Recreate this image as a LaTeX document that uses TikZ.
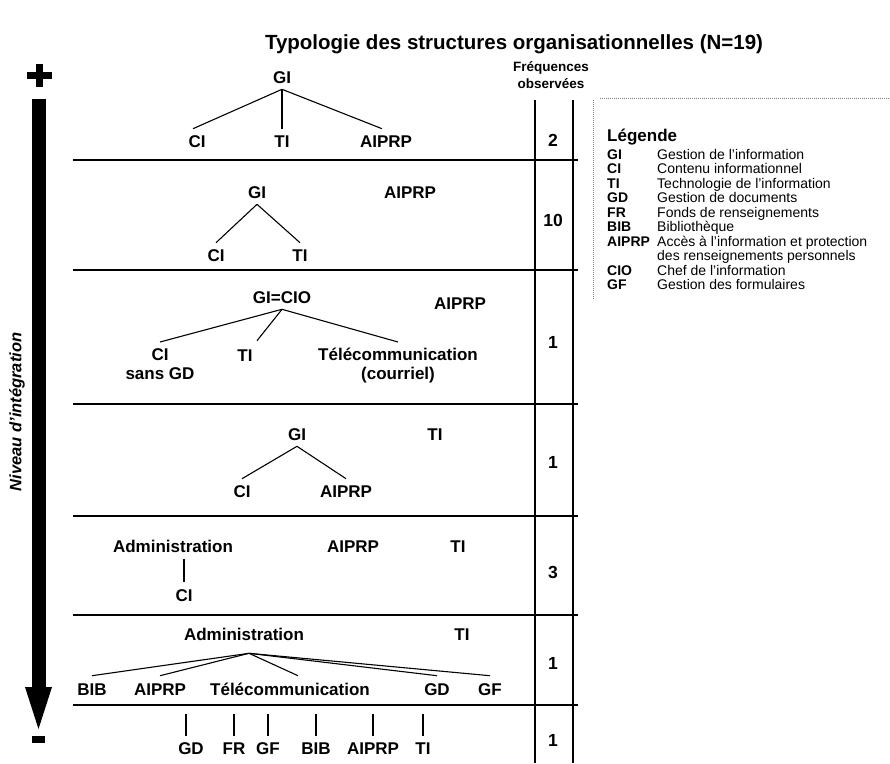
\documentclass[tikz,border=0pt]{standalone}
\usepackage{fontspec}
\setmainfont{Liberation Sans}
\begin{document}
\begin{tikzpicture}[x=1pt,y=-1pt,
  lbl/.style={font=\bfseries\fontsize{17}{19}\selectfont, inner xsep=1pt, inner ysep=6pt, text height=12.2pt, text depth=0pt},
  lblm/.style={font=\bfseries\fontsize{17}{19}\selectfont, inner xsep=1pt, inner ysep=6pt, align=center, anchor=north},
  freq/.style={font=\bfseries\fontsize{17.5}{19}\selectfont, inner sep=1pt},
  leg/.style={font=\fontsize{14}{15}\selectfont, anchor=base west, inner sep=0pt},
  legb/.style={font=\bfseries\fontsize{14}{15}\selectfont, anchor=base west, inner sep=0pt},
  sepline/.style={line width=1.7pt},
  link/.style={line width=1.1pt},
  colline/.style={line width=1.1pt},
  dotline/.style={line width=1pt, gray, densely dotted}]
\useasboundingbox (0,0) rectangle (890,763);
\fill[white] (0,0) rectangle (890,763);

% title
\node[font=\bfseries\fontsize{20.5}{23}\selectfont, inner sep=1pt] (title) at (514,44) {Typologie des structures organisationnelles (N=19)};

% left arrow
\fill (27,72) rectangle (52,79);
\fill (36,64) rectangle (43,87);
\fill (32,99) rectangle (46,689);
\fill (25,687) -- (52,687) -- (38.5,729) -- cycle;
\fill (32,736) rectangle (45,743);
\node[rotate=90, font=\bfseries\itshape\fontsize{16.5}{18}\selectfont] (niv) at (17,412) {Niveau d'intégration};

% frequency header and columns
\node[font=\bfseries\fontsize{13.5}{17}\selectfont, align=center, inner sep=1pt] (fhead) at (551,75) {Fréquences\\observées};
\draw[colline] (535,100) -- (535,763);
\draw[colline] (573,100) -- (573,763);

% horizontal separators
\foreach \yy in {160,270,404,516,615,705} \draw[sepline] (73,\yy) -- (578,\yy);

% frequencies
\node[freq] (f1) at (553,140) {2};
\node[freq] (f2) at (553,220) {10};
\node[freq] (f3) at (553,342) {1};
\node[freq] (f4) at (553,462) {1};
\node[freq] (f5) at (553,572) {3};
\node[freq] (f6) at (553,663) {1};
\node[freq] (f7) at (553,740) {1};

% section 1
\node[lbl] (gi1) at (282,77) {GI};
\node[lbl] (ci1) at (197,141) {CI};
\node[lbl] (ti1) at (282,141) {TI};
\node[lbl] (ai1) at (386,141) {AIPRP};
\draw[link] (gi1.south) -- ([xshift=-4pt]ci1.north);
\draw[link] (gi1.south) -- (ti1.north);
\draw[link] (gi1.south) -- ([xshift=-4pt]ai1.north);

% section 2
\node[lbl] (gi2) at (257,192) {GI};
\node[lbl] (ai2) at (410,192) {AIPRP};
\node[lbl] (ci2) at (216,255) {CI};
\node[lbl] (ti2) at (300,255) {TI};
\draw[link] (gi2.south) -- (ci2.north);
\draw[link] (gi2.south) -- (ti2.north);

% section 3
\node[lbl] (gi3) at (282,297) {GI=CIO};
\node[lbl] (ai3) at (460,303) {AIPRP};
\node[lblm] (ci3) at (160,342) {CI\\sans GD};
\node[lbl] (ti3) at (245,355) {TI};
\node[lblm] (te3) at (398,342) {Télécommunication\\(courriel)};
\draw[link] (gi3.south) -- (ci3.north);
\draw[link] (gi3.south) -- ([xshift=12pt,yshift=2pt]ti3.north);
\draw[link] (gi3.south) -- (te3.north);

% section 4
\node[lbl] (gi4) at (297,434) {GI};
\node[lbl] (ti4) at (435,434) {TI};
\node[lbl] (ci4) at (242,491) {CI};
\node[lbl] (ai4) at (346,491) {AIPRP};
\draw[link] (gi4.south) -- (ci4.north);
\draw[link] (gi4.south) -- (ai4.north);

% section 5
\node[lbl] (ad5) at (173,546) {Administration};
\node[lbl] (ai5) at (353,546) {AIPRP};
\node[lbl] (ti5) at (458,546) {TI};
\node[lbl] (ci5) at (184,595) {CI};
\draw[link] ([yshift=1pt]ci5.north) -- ([yshift=-1pt]ci5.north |- ad5.south);

% section 6
\node[lbl] (ad6) at (244,634) {Administration};
\node[lbl] (ti6) at (462,634) {TI};
\node[lbl, inner ysep=7pt] (bi6) at (92,689) {BIB};
\node[lbl, inner ysep=7pt] (ai6) at (160,689) {AIPRP};
\node[lbl, inner ysep=7pt] (te6) at (290,689) {Télécommunication};
\node[lbl, inner ysep=7pt] (gd6) at (437,689) {GD};
\node[lbl, inner ysep=7pt] (gf6) at (490,689) {GF};
\coordinate (ap6) at ([xshift=5pt,yshift=-7pt]ad6.south);
\draw[link] (ap6) -- (bi6.north);
\draw[link] (ap6) -- (ai6.north);
\draw[link] (ap6) -- ([xshift=8pt]te6.north);
\draw[link] (ap6) -- (gd6.north);
\draw[link] (ap6) -- (gf6.north);

% section 7
\foreach \nm/\xx/\tx in {gd7/191/GD, fr7/234/FR, gf7/268/GF, bi7/316/BIB, ai7/373/AIPRP, ti7/423/TI}{
  \node[lbl] (\nm) at (\xx,748) {\tx};
}
\foreach \nm/\xx in {gd7/186, fr7/234, gf7/268, bi7/316, ai7/373, ti7/423}{
  \coordinate (\nm t) at (\xx,714);
  \draw[link] (\nm t) -- (\nm t |- \nm.north);
}

% legend
\draw[dotline] (600,98) -- (890,98);
\draw[dotline] (593,100) -- (593,300);
\node[font=\bfseries\fontsize{17}{19}\selectfont, anchor=base west, inner sep=0pt] (legt) at (607,141) {Légende};
\foreach \i/\ab/\de [count=\k from 0] in {
  1/GI/Gestion de l'information,
  2/CI/Contenu informationnel,
  3/TI/Technologie de l'information,
  4/GD/Gestion de documents,
  5/FR/Fonds de renseignements,
  6/BIB/Bibliothèque,
  7/AIPRP/Accès à l'information et protection}{
  \node[legb] (la\i) at (607,{159+\k*14.5}) {\ab};
  \node[leg] (ld\i) at (657,{159+\k*14.5}) {\de};
}
\node[leg] (ld7b) at (657,{159+7*14.5}) {des renseignements personnels};
\node[legb] (la8) at (607,{159+8*14.5}) {CIO};
\node[leg] (ld8) at (657,{159+8*14.5}) {Chef de l'information};
\node[legb] (la9) at (607,{159+9*14.5}) {GF};
\node[leg] (ld9) at (657,{159+9*14.5}) {Gestion des formulaires};
\end{tikzpicture}
\end{document}
